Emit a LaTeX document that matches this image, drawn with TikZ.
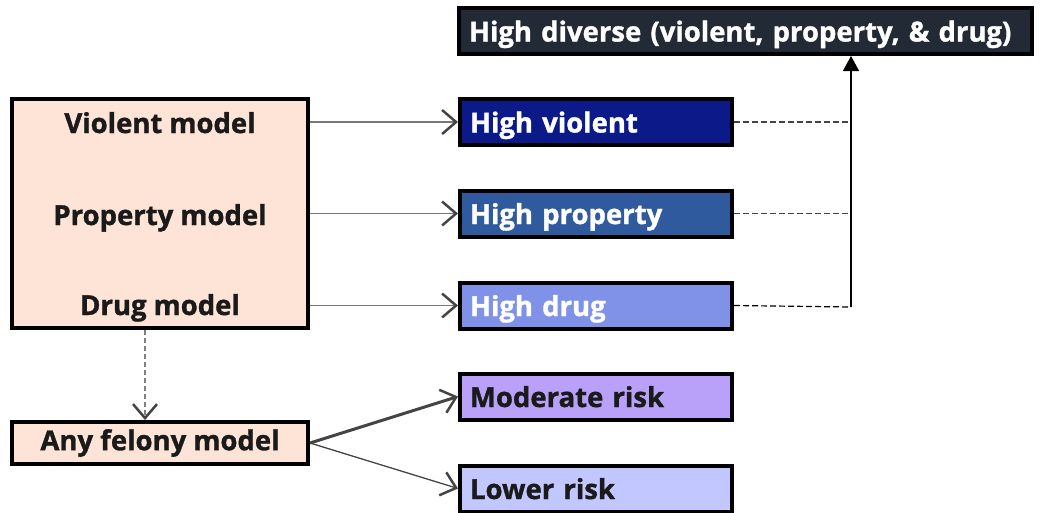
\documentclass[tikz,border=0pt]{standalone}
\usepackage{fontspec}
\setmainfont{Open Sans}[BoldFeatures={FakeBold=1.2}]
\usetikzlibrary{arrows.meta}

\definecolor{peach}{HTML}{FDE4D7}
\definecolor{diversefill}{HTML}{222A36}
\definecolor{violentfill}{HTML}{0B1A88}
\definecolor{propertyfill}{HTML}{2F5A9E}
\definecolor{drugfill}{HTML}{7F92E8}
\definecolor{moderatefill}{HTML}{B9A0F8}
\definecolor{lowerfill}{HTML}{C2C8FF}
\definecolor{linegray}{HTML}{777777}
\definecolor{tipgray}{HTML}{444444}
\definecolor{inkblack}{HTML}{1A1A1A}

\begin{document}
\begin{tikzpicture}[x=1pt,y=-1pt]
  \tikzstyle{every node}=[font=\fontsize{27.5}{30}\selectfont\bfseries,text=inkblack]
  \tikzstyle{box}=[draw=black,line width=4pt,rectangle]
  \tikzstyle{outcome}=[box,minimum width=272pt,minimum height=46pt,text width=252pt,align=left,inner xsep=10pt,text height=21pt,text depth=0pt]
  \tikzstyle{feed}=[draw=linegray,line width=1.3pt,-{Straight Barb[length=14pt,width=24pt,line width=2.5pt,color=tipgray]}]
 \useasboundingbox (0,0) rectangle (1044,512);

 % model boxes
 \node[box,fill=peach,minimum width=296pt,minimum height=229pt] (models) at (160,213.5) {};
 \node[anchor=base] (vm) at (160,133) {Violent model};
 \node[anchor=base] (pm) at (160,225) {Property model};
 \node[anchor=base] (dm) at (160,315) {Drug model};
 \node[box,fill=peach,minimum width=296pt,minimum height=42pt] (felony) at (160,443) {Any felony model};

 % outcome boxes
 \node[outcome,fill=diversefill,text=white,minimum width=573pt,text width=553pt] (diverse) at (745.5,31) {\mbox{High diverse (violent, property, \& drug)}};
 \node[outcome,fill=violentfill,text=white] (hv) at (596,122) {High violent};
 \node[outcome,fill=propertyfill,text=white] (hp) at (596,213.5) {High property};
 \node[outcome,fill=drugfill,text=white] (hd) at (596,305.5) {High drug};
 \node[outcome,fill=moderatefill] (mod) at (596,396.5) {Moderate risk};
 \node[outcome,fill=lowerfill] (low) at (596,488.5) {Lower risk};
 \coordinate (join) at (851,307);

 \draw [feed] (models.east |- hv.west) -- (hv.west);
 \draw [feed] (models.east |- hp.west) -- (hp.west);
 \draw [feed] (models.east |- hd.west) -- (hd.west);
 \draw [feed,draw=gray,dash pattern=on 5pt off 3pt] ([xshift=-15pt]models.south) -- ([xshift=-15pt]felony.north);
 \draw [feed,draw=tipgray,line width=3pt] (felony.east) -- (mod.west);
 \draw [feed,draw=tipgray] (felony.east) -- (low.west);

 \draw [draw=tipgray,line width=1.2pt,dash pattern=on 6pt off 3pt] (hv.east) -- (hv.east -| join);
 \draw [draw=tipgray,line width=1.2pt,dash pattern=on 6pt off 3pt] (hp.east) -- (hp.east -| join);
 \draw [draw=black,line width=1.2pt,dash pattern=on 6pt off 3pt] (hd.east) -- (join);
 \draw [line width=1.5pt,-{Triangle[length=15pt,width=16pt]}] (join) -- (join |- diverse.south);


\end{tikzpicture}
\end{document}
